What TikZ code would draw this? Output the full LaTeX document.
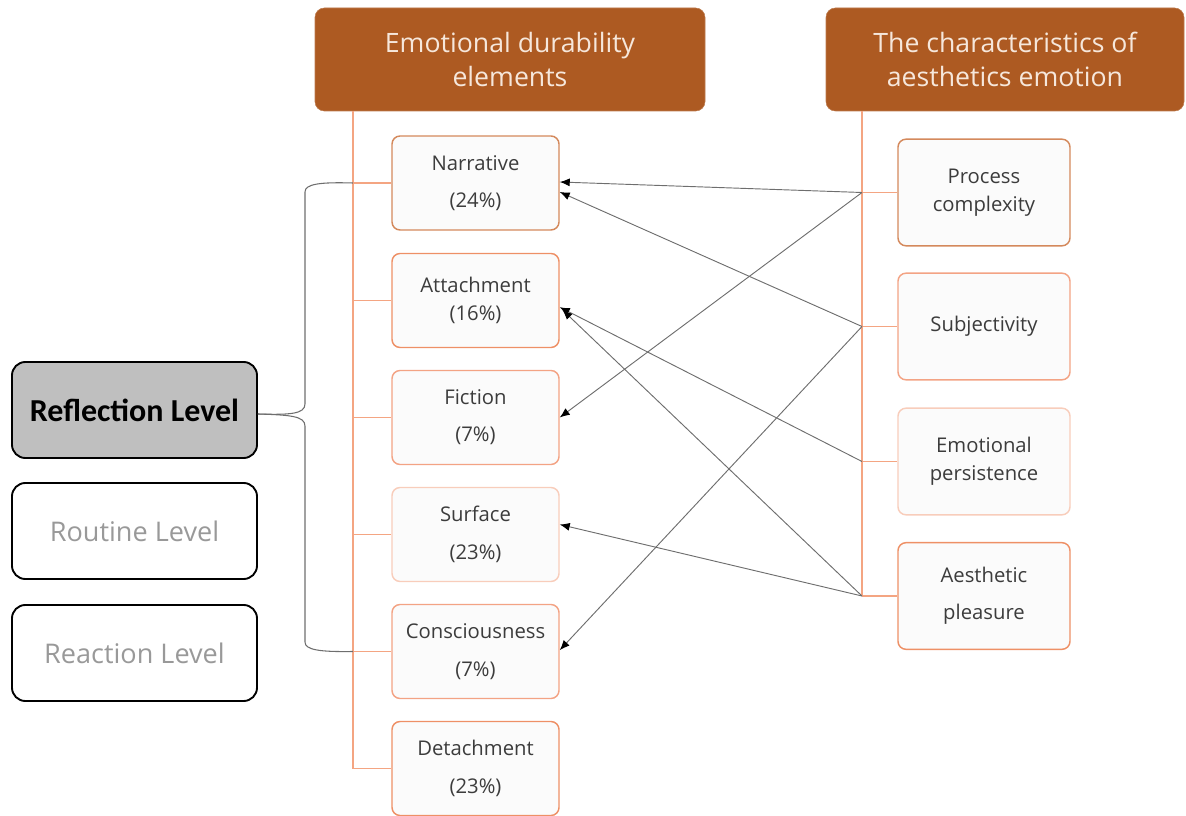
\documentclass[tikz,border=0pt]{standalone}
\usepackage{fontspec}
\setmainfont{Open Sans}
\newfontfamily\carl{Carlito}
\usetikzlibrary{arrows.meta}
\definecolor{hdr}{HTML}{AD5A22}
\definecolor{hdrtxt}{HTML}{F6E7DB}
\definecolor{trunk}{HTML}{F4A582}
\definecolor{boxfill}{HTML}{FBFBFB}
\definecolor{boxtxt}{HTML}{3C3C3C}
\definecolor{bA}{HTML}{D4895C}
\definecolor{bB}{HTML}{EE9066}
\definecolor{bC}{HTML}{F3A384}
\definecolor{bD}{HTML}{F8CDBB}
\definecolor{lvlfill}{HTML}{BFBFBF}
\definecolor{lvltxt}{HTML}{999999}
\definecolor{arr}{HTML}{6E6E6E}
\begin{document}
\begin{tikzpicture}[x=0.75pt,y=-0.75pt,
  header/.style={fill=hdr,draw=hdr!80!white,rounded corners=7pt,text=hdrtxt,align=center,
    font=\fontsize{20}{26}\selectfont,minimum height=77.25pt,inner sep=0pt},
  ebox/.style={draw,fill=boxfill,rounded corners=6pt,line width=1.1pt,text=boxtxt,align=center,
    font=\fontsize{15.2}{21}\selectfont,minimum width=125.25pt,minimum height=70.5pt,inner sep=0pt},
  cbox/.style={ebox,minimum width=129pt,minimum height=80pt},
  lvl/.style={draw=black,line width=1.4pt,rounded corners=10pt,minimum width=183.75pt,minimum height=72pt,
    inner sep=0pt,align=center},
  branch/.style={draw=trunk,line width=1.1pt},
  link/.style={draw=arr,line width=0.7pt,-{Latex[length=7.5pt,width=6pt,color=black]}},
  bracket/.style={draw=arr,line width=0.8pt}
]
\useasboundingbox (0,0) rectangle (1186,816);

% headers
\node[header,minimum width=292.5pt] (h1) at (510,59.5) {Emotional durability\\elements};
\node[header,minimum width=268.5pt] (h2) at (1005,59.5) {The characteristics of\\aesthetics emotion};

% left element boxes
\node[ebox,draw=bA] (narr) at (475.5,183) {Narrative\\[7pt](24\%)};
\node[ebox,draw=bB] (att) at (475.5,300.5) {Attachment\\(16\%)};
\node[ebox,draw=bC] (fict) at (475.5,417.5) {Fiction\\[7pt](7\%)};
\node[ebox,draw=bD] (surf) at (475.5,534.5) {Surface\\[7pt](23\%)};
\node[ebox,draw=bC] (cons) at (475.5,651.5) {Consciousness\\[7pt](7\%)};
\node[ebox,draw=bB] (det) at (475.5,768.5) {Detachment\\[7pt](23\%)};

% right characteristic boxes
\node[cbox,draw=bA] (proc) at (984,192.5) {Process\\complexity};
\node[cbox,draw=bC] (subj) at (984,326.5) {Subjectivity};
\node[cbox,draw=bD] (emo) at (984,461.5) {Emotional\\persistence};
\node[cbox,draw=bB] (aes) at (984,596) {Aesthetic\\[7pt]pleasure};

% level boxes
\node[lvl,fill=lvlfill,font=\carl\bfseries\fontsize{24}{28}\selectfont] (refl) at (134.5,410) {Reflection Level};
\node[lvl,text=lvltxt,font=\fontsize{20.3}{24}\selectfont] (rout) at (134.5,531) {Routine Level};
\node[lvl,text=lvltxt,font=\fontsize{20.3}{24}\selectfont] (reac) at (134.5,653) {Reaction Level};

% left trunk
\coordinate (lt) at (353,111);
\coordinate (lb) at (353,768.5);
\draw[branch] (lt) -- (lb);
\foreach \n in {narr,att,fict,surf,cons,det}{
  \draw[branch] (lt |- \n.west) -- (\n.west);
}
% right trunk
\coordinate (rt) at (862,111);
\coordinate (rb) at (862,596);
\draw[branch] (rt) -- (rb);
\foreach \n in {proc,subj,emo,aes}{
  \draw[branch] (rt |- \n.west) -- (\n.west);
}
\coordinate (jP) at (rt |- proc.west);
\coordinate (jS) at (rt |- subj.west);
\coordinate (jE) at (rt |- emo.west);
\coordinate (jA) at (rt |- aes.west);

% bracket
\coordinate (bu) at (lt |- narr.west);
\coordinate (bd) at (lt |- cons.west);
\draw[bracket] ([yshift=-3pt]refl.east) .. controls (290,415) and (305,414) .. (305,404) -- (305,192)
  .. controls (305,184) and (320,182) .. (bu);
\draw[bracket] ([yshift=-3pt]refl.east) .. controls (290,415) and (305,416) .. (305,426) -- (305,642)
  .. controls (305,650) and (320,652) .. (bd);

% links
\draw[link] (jP) -- ([yshift=0.75pt]narr.east);
\draw[link] (jS) -- ([yshift=-6.75pt]narr.east);
\draw[link] (jP) -- (fict.east);
\draw[link] (jE) -- ([yshift=-5pt]att.east);
\draw[link] (jA) -- ([xshift=2pt,yshift=-7pt]att.east);
\draw[link] (jA) -- ([yshift=7.5pt]surf.east);
\draw[link] (jS) -- ([yshift=1pt]cons.east);
\end{tikzpicture}
\end{document}
